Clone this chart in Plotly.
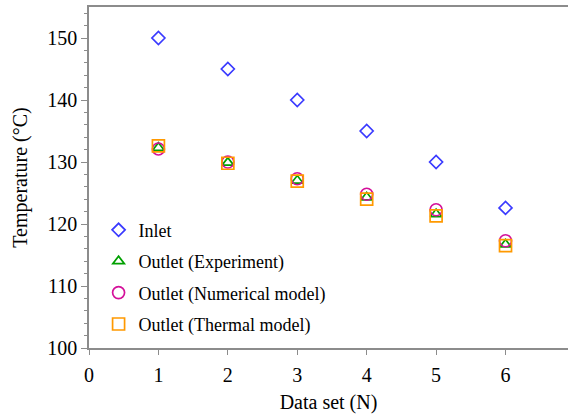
import plotly.graph_objects as go

data_set = [1, 2, 3, 4, 5, 6]
inlet = [150.0, 145.0, 140.0, 135.0, 130.0, 122.6]
outlet_experiment = [132.3, 129.9, 127.0, 124.3, 121.6, 116.7]
outlet_numerical = [132.1, 130.0, 127.3, 124.8, 122.3, 117.3]
outlet_thermal = [132.6, 129.8, 126.9, 124.0, 121.3, 116.5]

series = [
    ("Inlet", inlet, "diamond-open", "#3a3aff", 10),
    ("Outlet (Experiment)", outlet_experiment, "triangle-up-open", "#00a000", 10),
    ("Outlet (Numerical model)", outlet_numerical, "circle-open", "#d4109a", 12),
    ("Outlet (Thermal model)", outlet_thermal, "square-open", "#ff9900", 12),
]

fig = go.Figure()
for i, (name, vals, sym, col, sz) in enumerate(series):
    fig.add_trace(go.Scatter(
        x=data_set, y=vals, mode="markers", name=name, legendgroup=f"g{i}",
        marker=dict(symbol=sym, size=sz, color=col, line=dict(width=1.7, color=col)),
    ))

font_family = "Liberation Serif, Times New Roman, serif"
fig.update_layout(
    width=568, height=417,
    margin=dict(l=89, r=0, t=7, b=69),
    paper_bgcolor="white", plot_bgcolor="white",
    font=dict(family=font_family, size=20, color="black"),
    showlegend=True,
    legend=dict(x=0.02, y=0.40, xanchor="left", yanchor="top",
                bgcolor="rgba(0,0,0,0)", font=dict(size=18, family=font_family),
                tracegroupgap=5, itemsizing="trace"),
    xaxis=dict(
        range=[0, 6.9], tickmode="array", tickvals=[0, 1, 2, 3, 4, 5, 6],
        showgrid=False, zeroline=False, showline=True, linecolor="#8c8c8c",
        linewidth=1.5, mirror=True, ticks="outside", ticklen=5, tickcolor="#8c8c8c",
        ticklabelstandoff=3,
        title=dict(text="Data set (N)", standoff=10, font=dict(size=20)),
        tickfont=dict(size=20),
    ),
    yaxis=dict(
        range=[100, 155], tickmode="array", tickvals=[100, 110, 120, 130, 140, 150],
        showgrid=False, zeroline=False, showline=True, linecolor="#8c8c8c",
        linewidth=1.5, ticks="outside", ticklen=6, tickcolor="#8c8c8c",
        minor=dict(tickmode="linear", tick0=100, dtick=2, ticks="outside", ticklen=3,
                   tickcolor="#8c8c8c", showgrid=False),
        title=dict(text="Temperature (°C)", standoff=14, font=dict(size=20)),
        tickfont=dict(size=20),
    ),
)

fig.write_html("out.html")
